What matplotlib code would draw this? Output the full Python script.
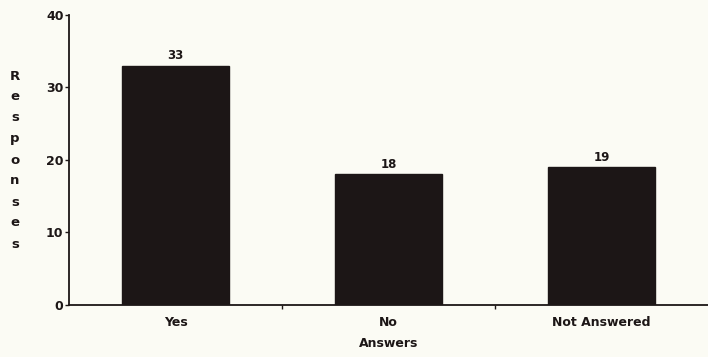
import numpy as np
import matplotlib.pyplot as plt

# data
answers = ['Yes', 'No', 'Not Answered']
responses = [33, 18, 19]
y_ticks = [0, 10, 20, 30, 40]

bg = '#fbfbf4'
ink = '#1c1616'

plt.rcParams['font.family'] = ['DejaVu Sans']

fig = plt.figure(figsize=(7.08, 3.57), dpi=100, facecolor=bg)
ax = fig.add_axes([0.0975, 0.146, 0.9025, 0.812], facecolor=bg)

x = np.arange(len(answers))
bars = ax.bar(x, responses, width=0.5, color=ink, edgecolor=ink, linewidth=1)

# value labels above each bar
for xi, v in zip(x, responses):
    ax.text(xi, v + 0.5, str(v), ha='center', va='bottom',
            fontsize=8.5, fontweight='bold', color=ink)

ax.set_xlim(-0.5, 2.5)
ax.set_ylim(0, 40)
ax.set_yticks(y_ticks)
ax.set_xticks(x)
ax.set_xticklabels(answers, fontsize=9, fontweight='bold', color=ink)
ax.tick_params(axis='x', length=0, pad=8)
ax.tick_params(axis='y', length=3, width=1, pad=1, labelsize=9, colors=ink)
for lbl in ax.get_yticklabels():
    lbl.set_fontweight('bold')
# small ticks between categories
ax.set_xticks([0.5, 1.5], minor=True)
ax.tick_params(axis='x', which='minor', length=3, width=1, color=ink)

for s in ['top', 'right']:
    ax.spines[s].set_visible(False)
for s in ['left', 'bottom']:
    ax.spines[s].set_color(ink)
    ax.spines[s].set_linewidth(1.3)

ax.set_xlabel('Answers', fontsize=9, fontweight='bold', color=ink, labelpad=6)

# stacked vertical y label
ylabel = 'Responses'
for i, ch in enumerate(ylabel):
    fig.text(15 / 708, 1 - (76 + i * 21) / 357, ch, ha='center', va='center',
             fontsize=9.5, fontweight='bold', color=ink)

fig.savefig('out.png', dpi=100, facecolor=bg)
